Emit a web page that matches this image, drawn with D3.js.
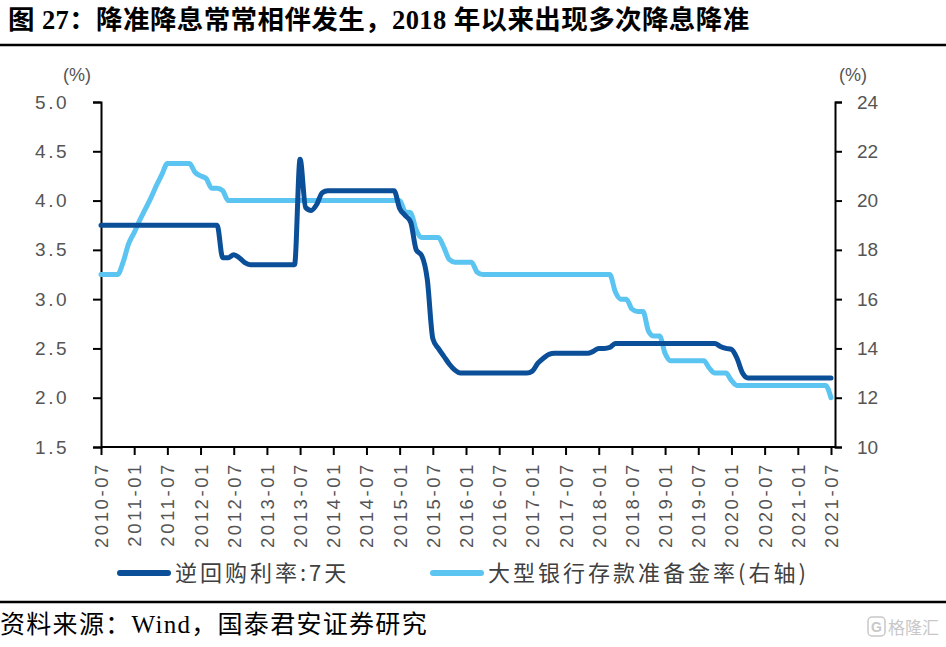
<!DOCTYPE html>
<html>
<head>
<meta charset="utf-8">
<script src="https://cdn.jsdelivr.net/npm/d3@7"></script>
<style>
  html, body { margin: 0; padding: 0; background: #fff; }
  svg { display: block; }
</style>
</head>
<body>
<svg id="chart" width="946" height="647"></svg>
<script>
// ---- data (monthly, 2010-07 .. 2021-07) ----
const tickLabels = ["2010-07","2011-01","2011-07","2012-01","2012-07","2013-01","2013-07","2014-01","2014-07","2015-01","2015-07","2016-01","2016-07","2017-01","2017-07","2018-01","2018-07","2019-01","2019-07","2020-01","2020-07","2021-01","2021-07"];
const leftTicks = [1.5, 2.0, 2.5, 3.0, 3.5, 4.0, 4.5, 5.0];
const rightTicks = [10, 12, 14, 16, 18, 20, 22, 24];
const seriesNames = ["逆回购利率:7天", "大型银行存款准备金率(右轴)"];

// 逆回购利率:7天 (left axis)
const repo7d = [
  3.75,3.75,3.75,3.75,3.75,3.75,3.75,3.75,3.75,3.75,3.75,3.75,3.75,3.75,3.75,3.75,3.75,3.75,3.75,3.75,3.75,3.75,
  3.42,3.42,3.45,3.42,3.37,
  3.35,3.35,3.35,3.35,3.35,3.35,3.35,3.35,3.35,
  4.42,3.93,3.90,3.96,4.08,
  4.10,4.10,4.10,4.10,4.10,4.10,4.10,4.10,4.10,4.10,4.10,4.10,4.10,
  3.92,3.85,3.78,3.50,3.44,3.20,2.60,2.50,2.42,2.34,2.28,
  2.25,2.25,2.25,2.25,2.25,2.25,2.25,2.25,2.25,2.25,2.25,2.25,2.25,
  2.27,2.35,2.40,2.44,
  2.45,2.45,2.45,2.45,2.45,2.45,2.45,
  2.47,2.50,2.50,2.51,
  2.55,2.55,2.55,2.55,2.55,2.55,2.55,2.55,2.55,2.55,2.55,2.55,2.55,2.55,2.55,2.55,2.55,2.55,2.55,
  2.52,2.50,2.49,2.40,2.25,
  2.20,2.20,2.20,2.20,2.20,2.20,2.20,2.20,2.20,2.20,2.20,2.20,2.20,2.20,2.20,2.20
];

// 大型银行存款准备金率 (right axis)
const rrrLarge = [
  17.0,17.0,17.0,17.0,
  17.5,18.25,18.7,19.2,19.65,20.1,20.6,21.05,
  21.5,21.5,21.5,21.5,21.5,
  21.15,21.0,20.9,20.5,20.5,20.4,
  20.0,20.0,20.0,20.0,20.0,20.0,20.0,20.0,20.0,20.0,20.0,20.0,20.0,20.0,20.0,20.0,
  20.0,20.0,20.0,20.0,20.0,20.0,20.0,20.0,20.0,20.0,20.0,20.0,20.0,20.0,20.0,20.0,
  19.55,19.5,18.8,18.5,18.5,18.5,18.5,18.1,17.6,17.5,17.5,17.5,17.5,17.1,
  17.0,17.0,17.0,17.0,17.0,17.0,17.0,17.0,17.0,17.0,17.0,17.0,
  17.0,17.0,17.0,17.0,17.0,17.0,17.0,17.0,17.0,17.0,17.0,17.0,
  16.3,16.0,16.0,15.6,15.5,15.5,14.7,14.5,14.5,13.8,
  13.5,13.5,13.5,13.5,13.5,13.5,13.5,
  13.2,13.0,13.0,13.0,12.7,
  12.5,12.5,12.5,12.5,12.5,12.5,12.5,12.5,12.5,12.5,12.5,12.5,12.5,12.5,12.5,12.5,12.5,
  12.0
];

// ---- drawing ----
const svg = d3.select("#chart");
const colors = ["#0b4f98", "#5bc4f1"];
const plotLeft = 101, plotRight = 831, rightAxisX = 835, plotTop = 102, plotBottom = 447;

const x = d3.scaleLinear().domain([0, repo7d.length - 1]).range([plotLeft, plotRight]);
const yL = d3.scaleLinear().domain([1.5, 5.0]).range([plotBottom, plotTop]);
const yR = d3.scaleLinear().domain([10, 24]).range([plotBottom, plotTop]);

// Title
svg.append("text")
  .attr("x", 8).attr("y", 29)
  .style("font-family", "'Liberation Serif','Noto Sans CJK SC',serif")
  .style("font-weight", "bold").style("font-size", "26.5px").style("letter-spacing", "0.4px").attr("fill", "#000")
  .text("图 27：降准降息常常相伴发生，2018 年以来出现多次降息降准");
svg.append("line").attr("x1", 0).attr("x2", 946).attr("y1", 45).attr("y2", 45)
  .attr("stroke", "#000").attr("stroke-width", 2.5);

// Axes
const tickFont = "'Liberation Sans','Arial',sans-serif";
const axL = svg.append("g").attr("transform", `translate(${plotLeft},0)`)
  .call(d3.axisLeft(yL).tickValues(leftTicks).tickFormat(d3.format(".1f")).tickSize(8).tickPadding(24));
const axR = svg.append("g").attr("transform", `translate(${rightAxisX},0)`)
  .call(d3.axisRight(yR).tickValues(rightTicks).tickSize(7).tickPadding(15));
const tickIdx = tickLabels.map((d, i) => i * 6);
const axB = svg.append("g").attr("transform", `translate(0,${plotBottom})`)
  .call(d3.axisBottom(x).tickValues(tickIdx).tickFormat((d, i) => tickLabels[i]).tickSize(8).tickSizeOuter(0));

[axL, axR, axB].forEach(g => {
  g.select(".domain").attr("stroke", "#000").attr("stroke-width", 2);
  g.selectAll(".tick line").attr("stroke", "#000").attr("stroke-width", 2);
  g.selectAll(".tick text").attr("fill", "#555").style("font-family", tickFont).style("font-size", "19px");
});
axL.selectAll(".tick text").style("letter-spacing", "2.5px");
axB.select(".domain").attr("d", `M${plotLeft},0H${rightAxisX}`);
axB.selectAll(".tick text")
  .attr("transform", "rotate(-90)")
  .attr("text-anchor", "end")
  .attr("x", -15).attr("y", 0).attr("dy", "0.35em")
  .style("font-size", "18.5px").style("letter-spacing", "2.6px");

// unit labels
svg.append("text").attr("x", 77).attr("y", 81).attr("text-anchor", "middle")
  .style("font-family", tickFont).style("font-size", "18px").attr("fill", "#555").text("(%)");
svg.append("text").attr("x", 853).attr("y", 81).attr("text-anchor", "middle")
  .style("font-family", tickFont).style("font-size", "18px").attr("fill", "#555").text("(%)");

// Lines
const lineL = d3.line().x((d, i) => x(i)).y(d => yL(d)).curve(d3.curveMonotoneX);
const lineR = d3.line().x((d, i) => x(i)).y(d => yR(d)).curve(d3.curveMonotoneX);
svg.append("path").datum(rrrLarge).attr("d", lineR)
  .attr("fill", "none").attr("stroke", colors[1]).attr("stroke-width", 5)
  .attr("stroke-linejoin", "round").attr("stroke-linecap", "round");
svg.append("path").datum(repo7d).attr("d", lineL)
  .attr("fill", "none").attr("stroke", colors[0]).attr("stroke-width", 5)
  .attr("stroke-linejoin", "round").attr("stroke-linecap", "round");

// Legend
const legendX = [120, 433];
seriesNames.forEach((name, i) => {
  const g = svg.append("g");
  g.append("line").attr("x1", legendX[i]).attr("x2", legendX[i] + 48).attr("y1", 573).attr("y2", 573)
    .attr("stroke", colors[i]).attr("stroke-width", 6).attr("stroke-linecap", "round");
  g.append("text").attr("x", legendX[i] + 55).attr("y", 581)
    .style("font-family", "'Noto Sans CJK SC',sans-serif").style("font-size", "22px")
    .style("letter-spacing", "3px")
    .attr("fill", "#404040").text(name);
});

// Source
svg.append("line").attr("x1", 0).attr("x2", 946).attr("y1", 602).attr("y2", 602)
  .attr("stroke", "#000").attr("stroke-width", 2.5);
svg.append("text").attr("x", 0).attr("y", 633)
  .style("font-family", "'Liberation Serif','Noto Sans CJK SC',serif").style("font-size", "25px")
  .style("letter-spacing", "1.3px")
  .attr("fill", "#000").text("资料来源：Wind，国泰君安证券研究");

// watermark
svg.append("rect").attr("x", 868).attr("y", 617).attr("width", 17).attr("height", 19).attr("rx", 4)
  .attr("fill", "none").attr("stroke", "#c8c8c8").attr("stroke-width", 1.5);
svg.append("text").attr("x", 876.5).attr("y", 632).attr("text-anchor", "middle")
  .style("font-family", "'Liberation Sans',sans-serif").style("font-size", "14px").style("font-weight", "bold")
  .attr("fill", "#c8c8c8").text("G");
svg.append("text").attr("x", 888).attr("y", 634)
  .style("font-family", "'Noto Sans CJK SC',sans-serif").style("font-size", "17px")
  .attr("fill", "#c8c8c8").text("格隆汇");
</script>
</body>
</html>
